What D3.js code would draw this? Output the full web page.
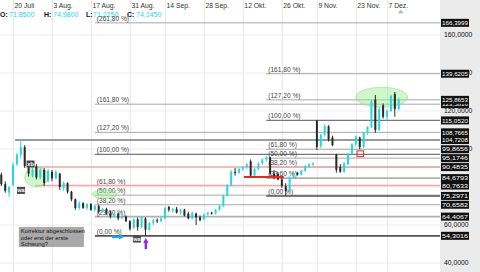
<!DOCTYPE html>
<html>
<head>
<meta charset="utf-8">
<script src="https://cdn.jsdelivr.net/npm/d3@7"></script>
<style>
  body { margin: 0; background: #fff; }
  svg { display: block; font-family: "Liberation Sans", Arial, sans-serif; }
</style>
</head>
<body>
<svg id="chart" width="480" height="272"></svg>
<script>
// trading days shown (weekdays, minus the days missing in the source)
const startDate = '2020-07-15';
const endDate = '2020-12-10';
const skipDays = ['2020-09-07', '2020-11-02', '2020-11-26', '2020-11-27'];

const tickDates = ['2020-07-20', '2020-08-03', '2020-08-17', '2020-08-31', '2020-09-14', '2020-09-28',
  '2020-10-12', '2020-10-26', '2020-11-09', '2020-11-23', '2020-12-07'];
const tickLabels = ['20 Juli', '3 Aug.', '17 Aug.', '31 Aug.', '14 Sep.', '28 Sep.',
  '12 Okt.', '26 Okt.', '9 Nov.', '23 Nov.', '7 Dez.'];

const opens = [86.5, 81.5, 77, 81, 92, 97, 101, 91, 86, 91,
  85, 89, 83, 88, 84.5, 87, 79.5, 82, 77.5, 73.5,
  69, 71.5, 69, 71, 68, 70, 67, 68.5, 66, 64.5,
  66, 63.5, 64.5, 62, 58.5, 63, 59, 63.5, 57.5, 61,
  62.5, 62, 63.5, 69.5, 67.5, 68.5, 66.5, 68, 66, 63.5,
  66, 64, 63, 65.5, 66.5, 66, 68, 70, 75.5, 81,
  88, 87.5, 89.5, 90.5, 93.5, 86, 89.5, 92.5, 94.5, 95.5,
  87, 87, 84, 80.5, 78, 85, 87.5, 86.5, 88.5, 91,
  92, 115, 101.5, 107.5, 112, 106, 97, 90.5, 88, 92,
  97.5, 102.5, 106, 101, 108.5, 111.5, 126, 110, 123, 117,
  120, 129, 121];
const highs = [87.5, 83, 80.5, 93, 98, 104.72, 102, 92, 90, 92,
  90, 90, 89.5, 89, 89, 87.5, 83, 82.5, 78, 74,
  72.5, 72, 71.5, 71.5, 70.5, 70.5, 69, 69, 67.5, 66.5,
  66.5, 65.5, 65, 62.5, 63.5, 64, 64.5, 64, 61.5, 63.5,
  63.5, 64, 69.5, 70, 69, 69.5, 68.5, 68.5, 67, 67,
  66.5, 65, 66, 67, 67, 68.5, 70.5, 76, 81.5, 89,
  90, 90, 91, 92.5, 94.5, 90, 93, 95, 96.5, 96,
  89, 88, 85.5, 82, 85.5, 88, 88, 89, 91.5, 92.5,
  93, 115.05, 108, 113, 112.5, 107, 97.5, 92, 93, 98,
  103, 107, 106.5, 109, 112, 126, 128.4, 122, 124, 121,
  128.5, 130, 127];
const lows = [80.5, 77, 74.8, 80.5, 91, 95, 90, 85.5, 85, 84,
  84, 80.5, 82.5, 83, 84, 78.5, 78, 76.5, 72.5, 68,
  68, 68.5, 68, 67.5, 67, 66, 66.5, 65.5, 63.5, 64,
  62.5, 63, 61.5, 57, 58, 57, 58.5, 54.3, 57, 60,
  61, 61.5, 63, 67, 66.5, 66, 65.5, 64.5, 63, 63,
  60, 62, 62.5, 65, 65.5, 65.5, 67.5, 69.5, 75, 80.5,
  86, 87, 88.5, 89.5, 85.3, 85.5, 89, 91.5, 93.5, 86,
  84, 83.5, 79.5, 75.3, 77.5, 84.5, 86, 86, 88, 90,
  91, 99.5, 100.5, 106.5, 104, 101.5, 87.5, 87.5, 87.5, 91.5,
  97, 101.5, 99.8, 100.5, 107.5, 111, 108.5, 109.5, 116, 115,
  119.5, 117, 120.5];
const closes = [81.5, 78, 80, 91.5, 97, 101, 91, 87, 89, 85,
  89, 82, 88.5, 84.5, 88, 80, 82, 77.5, 73.5, 69,
  71.5, 69, 71, 68, 70, 67, 68.5, 66, 64.5, 66,
  63.5, 64.5, 62, 58, 63, 59, 64, 57.5, 61, 62.5,
  62, 63.5, 69, 68, 68.5, 66.5, 68, 65, 63.5, 66.5,
  64, 62.5, 65.5, 66.5, 66, 68, 70, 75.5, 81, 88,
  87.5, 89.5, 90.5, 92, 86, 89.5, 92.5, 94.5, 95.5, 87,
  85, 84, 80.5, 78, 85, 87.5, 86.5, 88.5, 91, 92,
  92.5, 101, 107.5, 112, 105, 102, 89, 88, 92.5, 97.5,
  102.5, 106.5, 101, 108.5, 111.5, 125, 110, 121, 117, 120,
  128, 121, 126];

const yTicks = [40, 60, 80, 100, 120, 140, 160];

// header quote
const quoteKeys = ['O:', 'H:', 'L:', 'C:'];
const quoteValues = ['71,8500', '74,9800', '71,2250', '74,1450'];

// fibonacci tools: low/high in price, start = bar index where drawn from
const fibRatios = [0, 23.6, 38.2, 50, 61.8, 100, 127.2, 161.8, 261.8];
const fibLeft = { low: 54.3016, high: 97.1199, start: 24, ratios: fibRatios, boxed: [0, 23.6, 38.2, 61.8, 127.2, 161.8, 261.8] };
const fibRight = { low: 75.2971, high: 115.052, start: 68, ratios: fibRatios.slice(0, 8), boxed: fibRatios.slice(0, 8) };

const highLine = { value: 104.7208, start: 3.5 };
const pinkLines = [90.4835, 80.7633];
const pinkStart = 8.7;
const redLine = { value: 85.26, from: 62.3, to: 72.5 };

// ellipses as [bar from, bar to, price low, price high]
const ellipses = [[6, 12, 80, 90.5], [23.3, 29.7, 74, 78.5], [91, 104.3, 122, 132.5]];
const redBox = [91.3, 93, 96, 99];
const tags = [['xb', 7.5, 92.1], ['wa', 5.05, 78.2], ['wa', 34.8, 52.6]];
const noteLines = ['Korrektur abgeschlossen', 'oder erst der erste', 'Schwung?'];
const noteBox = [4.5, 21.2, 48.4, 59];

const svg = d3.select('#chart');
const plotRight = 440;
const parse = d3.timeParse('%Y-%m-%d');
const fmt = d3.timeFormat('%Y-%m-%d');
const days = d3.timeDay.range(parse(startDate), d3.timeDay.offset(parse(endDate), 1))
  .filter(d => d.getDay() % 6 !== 0 && !skipDays.includes(fmt(d)));
const bars = days.map((d, i) => ({ date: d, i, o: opens[i], h: highs[i], l: lows[i], c: closes[i] }));

const x = d3.scaleLinear().domain([-0.34, 112.6]).range([0, plotRight]);
const y = d3.scaleLinear().domain([40, 160]).range([263, 35]);
const idxOf = s => days.findIndex(d => fmt(d) === s);
const comma = (v, n) => v.toFixed(n).replace('.', ',');

const cyan = '#25d8df';

// right axis panel
svg.append('rect').attr('x', plotRight).attr('y', 0).attr('width', 40).attr('height', 272).attr('fill', '#ebebeb');

// grid
svg.append('g').selectAll('line').data(yTicks).enter().append('line')
  .attr('x1', 0).attr('x2', plotRight).attr('y1', d => y(d)).attr('y2', d => y(d))
  .attr('stroke', '#ececec').attr('stroke-width', 1);
svg.append('g').selectAll('line').data(tickDates).enter().append('line')
  .attr('x1', d => x(idxOf(d)) + 0.5).attr('x2', d => x(idxOf(d)) + 0.5)
  .attr('y1', 0).attr('y2', 272)
  .attr('stroke', '#e8e8e8').attr('stroke-width', 1);
svg.append('g').selectAll('text').data(tickDates).enter().append('text')
  .attr('x', d => x(idxOf(d)) + 1.5).attr('y', 8)
  .attr('font-size', 6.8).attr('fill', '#333')
  .text((d, k) => tickLabels[k]);

// header
const head = svg.append('g').attr('font-size', 7);
const headX = [0, 44, 86, 127];
quoteKeys.forEach((k, j) => {
  head.append('text').attr('x', headX[j]).attr('y', 17).attr('font-weight', 'bold').attr('fill', '#111').text(k);
  head.append('text').attr('x', headX[j] + (j === 2 ? 7 : 9)).attr('y', 17).attr('fill', cyan).text(quoteValues[j]);
});

// fib lines
const fibStyle = r => r === 0 ? ['#555', 1.6] : r === 100 ? ['#777', 1.2] : r === 23.6 ? ['#b0b0b0', 1.8] : ['#a8a8a8', 1];
function drawFib(f) {
  const g = svg.append('g');
  f.ratios.forEach(r => {
    const v = f.low + (f.high - f.low) * r / 100;
    const st = fibStyle(r);
    g.append('line').attr('x1', x(f.start)).attr('x2', plotRight)
      .attr('y1', y(v)).attr('y2', y(v)).attr('stroke', st[0]).attr('stroke-width', st[1]);
    g.append('text').attr('x', x(f.start) + 2).attr('y', y(v) - 2)
      .attr('font-size', 6.6).attr('fill', '#444')
      .text('(' + comma(r, 2) + ' %)');
  });
}
drawFib(fibLeft);
drawFib(fibRight);

svg.append('line').attr('x1', x(highLine.start)).attr('x2', plotRight)
  .attr('y1', y(highLine.value)).attr('y2', y(highLine.value))
  .attr('stroke', '#9a9a9a').attr('stroke-width', 2);

svg.append('g').selectAll('line').data(pinkLines).enter().append('line')
  .attr('x1', x(pinkStart)).attr('x2', plotRight).attr('y1', d => y(d)).attr('y2', d => y(d))
  .attr('stroke', '#f2a6a6').attr('stroke-width', 1.5);

// ellipses
svg.append('g').selectAll('ellipse').data(ellipses).enter().append('ellipse')
  .attr('cx', d => (x(d[0]) + x(d[1])) / 2).attr('cy', d => (y(d[2]) + y(d[3])) / 2)
  .attr('rx', d => (x(d[1]) - x(d[0])) / 2).attr('ry', d => (y(d[2]) - y(d[3])) / 2)
  .attr('fill', 'rgba(150,235,140,0.45)').attr('stroke', 'rgba(120,220,110,0.6)').attr('stroke-width', 0.8);

// candles
const cg = svg.append('g');
cg.selectAll('line').data(bars).enter().append('line')
  .attr('x1', d => x(d.i)).attr('x2', d => x(d.i))
  .attr('y1', d => y(d.h)).attr('y2', d => y(d.l))
  .attr('stroke', d => d.c >= d.o ? cyan : '#2a2a2a').attr('stroke-width', 1);
cg.selectAll('rect').data(bars).enter().append('rect')
  .attr('x', d => x(d.i) - 1).attr('width', 2)
  .attr('y', d => y(Math.max(d.o, d.c)))
  .attr('height', d => Math.max(1, Math.abs(y(d.o) - y(d.c))))
  .attr('fill', d => d.c >= d.o ? cyan : '#2a2a2a');

svg.append('line').attr('x1', x(redLine.from)).attr('x2', x(redLine.to))
  .attr('y1', y(redLine.value)).attr('y2', y(redLine.value))
  .attr('stroke', '#e5262a').attr('stroke-width', 2);

svg.append('rect').attr('x', x(redBox[0])).attr('y', y(redBox[3]))
  .attr('width', x(redBox[1]) - x(redBox[0])).attr('height', y(redBox[2]) - y(redBox[3]))
  .attr('fill', 'none').attr('stroke', '#e5262a').attr('stroke-width', 1);

// tags
tags.forEach(t => {
  svg.append('rect').attr('x', x(t[1]) - 4).attr('y', y(t[2]) - 3.5).attr('width', 8).attr('height', 7).attr('fill', '#4a4a4a');
  svg.append('text').attr('x', x(t[1])).attr('y', y(t[2]) + 2).attr('text-anchor', 'middle')
    .attr('font-size', 5.5).attr('font-weight', 'bold').attr('fill', '#fff').text(t[0]);
});

// note box
svg.append('rect').attr('x', x(noteBox[0])).attr('y', y(noteBox[3]))
  .attr('width', x(noteBox[1]) - x(noteBox[0])).attr('height', y(noteBox[2]) - y(noteBox[3]))
  .attr('fill', '#a9a9a9');
noteLines.forEach((s, k) => {
  svg.append('text').attr('x', x(noteBox[0]) + 2).attr('y', y(noteBox[3]) + 6.3 + k * 6.6)
    .attr('font-size', 5.8).attr('fill', '#111').text(s);
});

// arrows
const defs = svg.append('defs');
[['blueHead', '#1fa2f2'], ['purpleHead', '#8b2be8']].forEach(a => {
  defs.append('marker').attr('id', a[0]).attr('viewBox', '0 0 10 10').attr('refX', 5).attr('refY', 5)
    .attr('markerWidth', 2.2).attr('markerHeight', 2.4).attr('orient', 'auto')
    .append('path').attr('d', 'M0,0L10,5L0,10z').attr('fill', a[1]);
});
svg.append('line').attr('x1', x(28.4)).attr('x2', x(30.9)).attr('y1', y(53.8)).attr('y2', y(53.8))
  .attr('stroke', '#1fa2f2').attr('stroke-width', 2.5).attr('marker-end', 'url(#blueHead)');
svg.append('line').attr('x1', x(37.1)).attr('x2', x(37.1)).attr('y1', y(47.3)).attr('y2', y(51.8))
  .attr('stroke', '#8b2be8').attr('stroke-width', 2.5).attr('marker-end', 'url(#purpleHead)');

// top marker
svg.append('path').attr('d', `M${x(102.5) - 2},13L${x(102.5)},10L${x(102.5) + 2},13Z`)
  .attr('fill', '#bbb').attr('stroke', '#999').attr('stroke-width', 0.5);

// right axis ticks
svg.append('g').selectAll('text').data(yTicks).enter().append('text')
  .attr('x', 444).attr('y', d => y(d) + 2.4)
  .attr('font-size', 6.8).attr('fill', '#111')
  .text(d => comma(d, 4));

// value boxes
const boxVals = [];
[fibLeft, fibRight].forEach(f => f.boxed.forEach(r => boxVals.push(f.low + (f.high - f.low) * r / 100)));
boxVals.push(highLine.value);
boxVals.sort((a, b) => a - b);
const bg = svg.append('g');
boxVals.forEach(v => {
  bg.append('rect').attr('x', 441).attr('y', y(v) - 4).attr('width', 28).attr('height', 8).attr('fill', '#111');
  bg.append('text').attr('x', 442).attr('y', y(v) + 2.2).attr('font-size', 6)
    .attr('textLength', 26).attr('lengthAdjust', 'spacingAndGlyphs').attr('fill', '#fff')
    .text(comma(v, 4));
});
</script>
</body>
</html>
